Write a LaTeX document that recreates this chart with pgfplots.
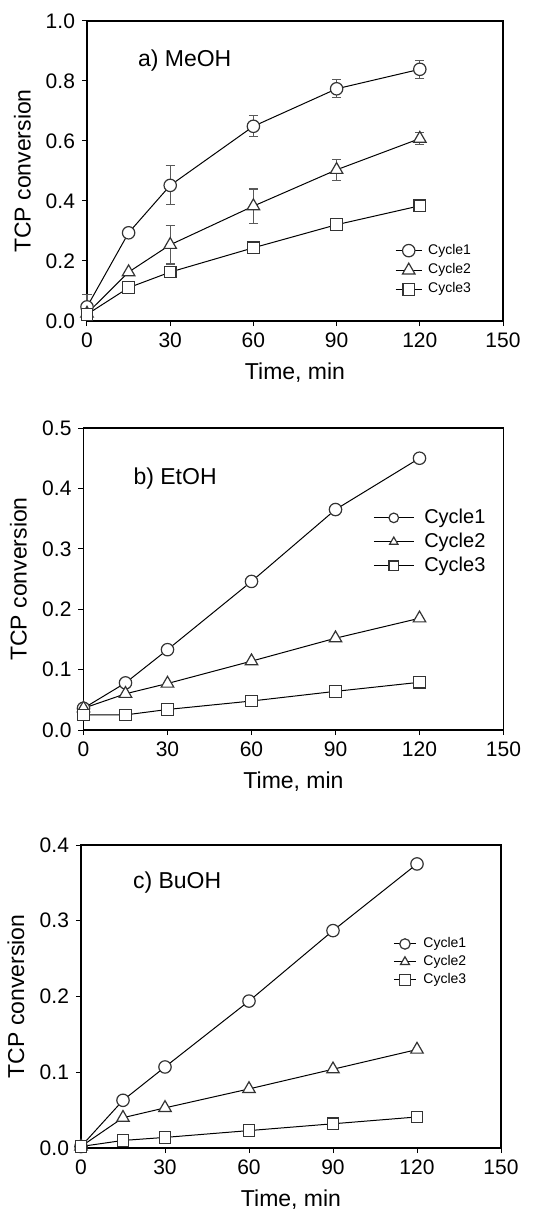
\documentclass[border=0pt]{standalone}
\usepackage{fontspec}
\setmainfont{Liberation Sans}
\usepackage{pgfplots}
\pgfplotsset{compat=1.18}
\definecolor{errgray}{gray}{0.35}
\definecolor{markgray}{gray}{0.2}
\pgfplotsset{
  panel/.style={
    scale only axis, clip=false,
    xmin=0, xmax=150, xtick={0,30,60,90,120,150},
    tick align=outside, xtick pos=left, ytick pos=left,
    major tick length=2.5pt,
    every tick/.style={black, line width=0.5pt},
    axis line style={line width=0.6pt},
    /pgf/number format/assume math mode=true,
    ticklabel style={font=\fontsize{10.5}{12}\selectfont},
    y tick label style={/pgf/number format/fixed, /pgf/number format/fixed zerofill, /pgf/number format/precision=1},
    xlabel={Time, min}, ylabel={TCP conversion},
    label style={font=\fontsize{11.5}{13}\selectfont},
    xlabel style={at={(axis description cs:0.5,0)}, yshift=-26pt, anchor=center},
    ylabel style={at={(axis description cs:-0.155,0.5)}, anchor=center},
    legend cell align=left,
  },
  c1/.style={black, line width=0.5pt, mark=*, mark size=3.1pt, mark options={fill=white, draw=markgray, line width=0.6pt}},
  c2/.style={black, line width=0.5pt, mark=triangle*, mark size=3.6pt, mark options={fill=white, draw=markgray, line width=0.6pt}},
  c3/.style={black, line width=0.5pt, mark=square*, mark size=2.9pt, mark options={fill=white, draw=markgray, line width=0.6pt}},
  eb/.style={error bars/y dir=both, error bars/y explicit,
    error bars/error bar style={errgray, line width=0.6pt},
    error bars/error mark options={rotate=90, mark size=2.3pt, errgray, line width=0.6pt}},
}
\begin{document}
\begin{tikzpicture}
\useasboundingbox (0,0) rectangle (269pt,-606.5pt);
% ---------------- a) MeOH
\begin{axis}[panel, at={(43.5pt,-160.5pt)}, anchor=south west,
  width=208pt, height=150pt, ymin=0, ymax=1.0, ytick={0,0.2,0.4,0.6,0.8,1.0},
  legend style={draw=none, fill=none, at={(axis description cs:0.74,0.17)}, anchor=west,
    font=\fontsize{7}{8}\selectfont, inner sep=0pt, row sep=3pt, column sep=3pt,
    nodes={inner sep=0pt, text height=5pt, text depth=1.5pt}},
  legend image code/.code={\draw[mark repeat=2,mark phase=2] plot coordinates {(0pt,0pt) (6.5pt,0pt) (13pt,0pt)};}]
\addplot[c1, eb] coordinates {
 (0,0.047) +- (0,0.04)
 (15,0.294) +- (0,0.0)
 (30,0.452) +- (0,0.065)
 (60,0.649) +- (0,0.035)
 (90,0.774) +- (0,0.03)
 (120,0.839) +- (0,0.03)};
\addlegendentry{Cycle1}
\addplot[c2, eb] coordinates {
 (0,0.025) +- (0,0.0)
 (15,0.163) +- (0,0.0)
 (30,0.254) +- (0,0.064)
 (60,0.383) +- (0,0.057)
 (90,0.504) +- (0,0.035)
 (120,0.608) +- (0,0.02)};
\addlegendentry{Cycle2}
\addplot[c3] coordinates {
 (0,0.022) (15,0.111) (30,0.163) (60,0.244) (90,0.321) (120,0.384)};
\addlegendentry{Cycle3}
\node[anchor=west, font=\fontsize{11.5}{13}\selectfont] at ([xshift=22pt,yshift=-20pt]rel axis cs:0,1) {a) MeOH};
\end{axis}
% ---------------- b) EtOH
\begin{axis}[panel, at={(41.75pt,-365pt)}, anchor=south west,
  width=210pt, height=151pt, ymin=0, ymax=0.5, ytick={0,0.1,0.2,0.3,0.4,0.5},
  legend style={draw=none, fill=none, at={(axis description cs:0.689,0.623)}, anchor=west,
    font=\fontsize{10}{12}\selectfont, inner sep=0pt, row sep=3.5pt, column sep=5pt,
    nodes={inner sep=0pt, text height=7pt, text depth=1.5pt}},
  every legend image post/.append style={mark size=2.4pt},
  legend image code/.code={\draw[mark repeat=2,mark phase=2] plot coordinates {(0pt,0pt) (10pt,0pt) (20pt,0pt)};}]
\addplot[c1] coordinates {
 (0,0.036) (15,0.078) (30,0.133) (60,0.246) (90,0.365) (120,0.450)};
\addlegendentry{Cycle1}
\addplot[c2] coordinates {
 (0,0.036) (15,0.060) (30,0.077) (60,0.114) (90,0.152) (120,0.185)};
\addlegendentry{Cycle2}
\addplot[c3] coordinates {
 (0,0.025) (15,0.025) (30,0.034) (60,0.048) (90,0.064) (120,0.079)};
\addlegendentry{Cycle3}
\node[anchor=west, font=\fontsize{11.5}{13}\selectfont] at ([xshift=21.5pt,yshift=-25.5pt]rel axis cs:0,1) {b) EtOH};
\end{axis}
% ---------------- c) BuOH
\begin{axis}[panel, at={(40.5pt,-574pt)}, anchor=south west,
  width=210pt, height=151.5pt, ymin=0, ymax=0.4, ytick={0,0.1,0.2,0.3,0.4},
  legend style={draw=none, fill=none, at={(axis description cs:0.743,0.614)}, anchor=west,
    font=\fontsize{7}{8}\selectfont, inner sep=0pt, row sep=2.5pt, column sep=3.5pt,
    nodes={inner sep=0pt, text height=5pt, text depth=1.5pt}},
  every legend image post/.append style={mark size=2.6pt},
  legend image code/.code={\draw[mark repeat=2,mark phase=2] plot coordinates {(0pt,0pt) (5.5pt,0pt) (11pt,0pt)};}]
\addplot[c1] coordinates {
 (0,0.002) (15,0.063) (30,0.107) (60,0.194) (90,0.287) (120,0.375)};
\addlegendentry{Cycle1}
\addplot[c2] coordinates {
 (0,0.002) (15,0.040) (30,0.053) (60,0.078) (90,0.104) (120,0.130)};
\addlegendentry{Cycle2}
\addplot[c3] coordinates {
 (0,0.002) (15,0.010) (30,0.014) (60,0.023) (90,0.032) (120,0.041)};
\addlegendentry{Cycle3}
\node[anchor=west, font=\fontsize{11.5}{13}\selectfont] at ([xshift=22.5pt,yshift=-19pt]rel axis cs:0,1) {c) BuOH};
\end{axis}
\end{tikzpicture}
\end{document}
